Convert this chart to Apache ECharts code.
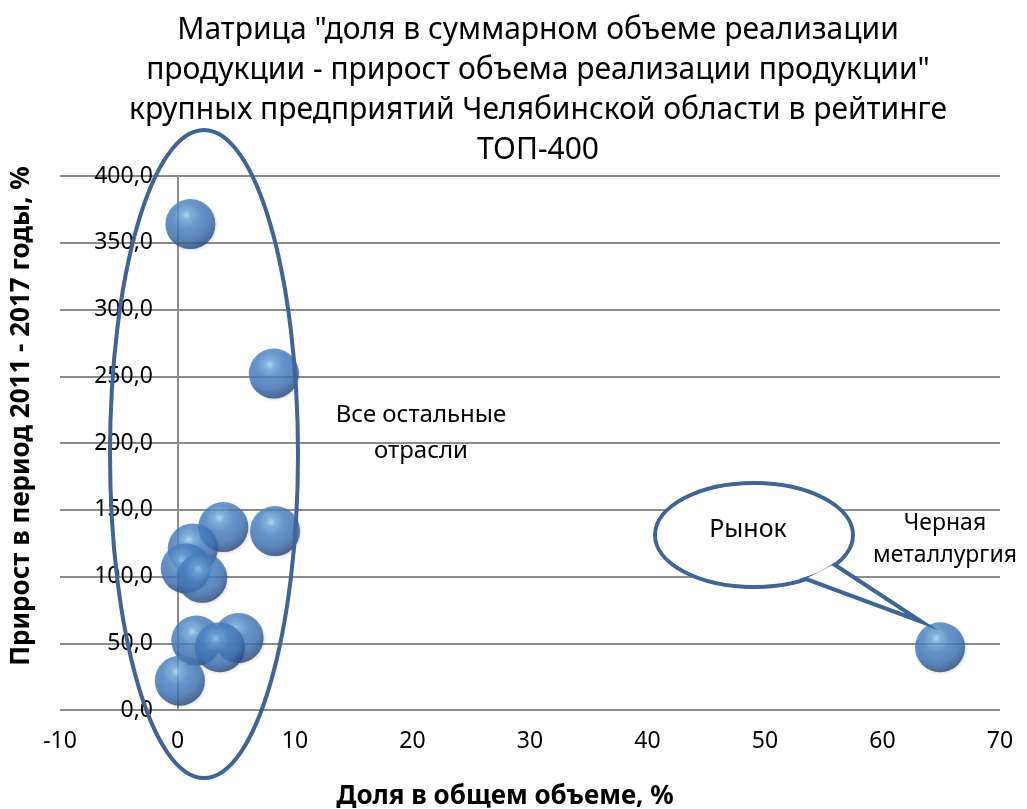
<!DOCTYPE html>
<html>
<head>
<meta charset="utf-8">
<script src="https://cdn.jsdelivr.net/npm/echarts@6/dist/echarts.min.js"></script>
<style>
html,body{margin:0;padding:0;background:#fff;}
#chart{width:1027px;height:809px;}
</style>
</head>
<body>
<div id="chart"></div>
<script>
// Data: share in total volume (%) and growth 2011-2017 (%)
var shareValues = [1.1, 8.2, 3.9, 8.3, 1.3, 0.7, 2.1, 1.6, 5.2, 3.6, 0.2, 64.9];
var growthValues = [364, 252, 137, 134, 121, 106, 99, 52, 54, 47, 22, 47];
var xTicks = [-10, 0, 10, 20, 30, 40, 50, 60, 70];
var yTicks = [0, 50, 100, 150, 200, 250, 300, 350, 400];
var titleLines = [
  'Матрица "доля в суммарном объеме реализации',
  'продукции - прирост объема реализации продукции"',
  'крупных предприятий Челябинской области в рейтинге',
  'ТОП-400'
];
var xAxisTitle = 'Доля в общем объеме, %';
var yAxisTitle = 'Прирост в период 2011 - 2017 годы, %';
var noteOthers = 'Все остальные\nотрасли';
var noteMetal = 'Черная\nметаллургия';
var noteMarket = 'Рынок';

var points = shareValues.map(function (x, i) { return [x, growthValues[i]]; });
var FONT = 'Noto Sans';
var chart = echarts.init(document.getElementById('chart'));

var sphere = {
  type: 'radial', x: 0.42, y: 0.32, r: 0.78,
  colorStops: [
    { offset: 0, color: '#9fd6f6' },
    { offset: 0.12, color: '#6ea8dd' },
    { offset: 0.35, color: '#4a82c4' },
    { offset: 0.62, color: '#3f73b5' },
    { offset: 0.8, color: '#2d5692' },
    { offset: 1, color: '#1a3358' }
  ]
};
var STROKE = '#3f6496';

chart.setOption({
  backgroundColor: '#ffffff',
  animation: false,
  title: {
    text: titleLines.join('\n'),
    left: 533,
    textAlign: 'center',
    top: 5,
    textStyle: { fontFamily: FONT, fontSize: 30, fontWeight: 'normal', color: '#000', lineHeight: 40 }
  },
  grid: { left: 60, right: 27, top: 176, bottom: 99, containLabel: false, outerBoundsMode: 'none' },
  xAxis: {
    type: 'value',
    min: xTicks[0], max: xTicks[xTicks.length - 1], interval: 10,
    name: xAxisTitle, nameLocation: 'middle', nameGap: 74,
    nameTextStyle: { fontFamily: FONT, fontSize: 26, fontWeight: 'bold', color: '#000', padding: [0, 50, 0, 0] },
    axisLine: { show: false },
    axisTick: { show: false },
    splitLine: { show: false },
    axisLabel: { fontFamily: FONT, fontSize: 23, color: '#000', margin: 20 }
  },
  yAxis: {
    type: 'value',
    min: yTicks[0], max: yTicks[yTicks.length - 1], interval: 50,
    name: yAxisTitle, nameLocation: 'middle', nameGap: 25, nameRotate: 90,
    nameTextStyle: { fontFamily: FONT, fontSize: 26, fontWeight: 'bold', color: '#000', padding: [0, 0, 0, 54] },
    axisLine: { show: true, onZero: true, lineStyle: { color: '#8c8c8c', width: 2 } },
    axisTick: { show: false },
    splitLine: { show: true, lineStyle: { color: '#8c8c8c', width: 2 } },
    axisLabel: {
      fontFamily: FONT, fontSize: 23, color: '#000', margin: -93,
      formatter: function (v) { return v.toFixed(1).replace('.', ','); }
    }
  },
  series: [{
    type: 'scatter',
    data: points,
    symbol: 'circle',
    symbolSize: 50,
    itemStyle: {
      color: sphere,
      shadowColor: 'rgba(0,0,0,0.2)', shadowBlur: 3, shadowOffsetX: 1, shadowOffsetY: 1
    },
    z: 3
  }],
  graphic: [
    {
      type: 'ellipse', z: 10,
      shape: { cx: 204, cy: 454, rx: 94, ry: 324 },
      style: { fill: 'none', stroke: STROKE, lineWidth: 4 }
    },
    {
      type: 'ellipse', z: 10,
      shape: { cx: 754, cy: 535, rx: 99, ry: 52 },
      style: { fill: '#ffffff', stroke: STROKE, lineWidth: 4 }
    },
    {
      type: 'polygon', z: 11,
      shape: { points: [[832, 563], [922, 622], [803, 578]] },
      style: { fill: '#ffffff', stroke: STROKE, lineWidth: 4, lineJoin: 'miter' }
    },
    {
      type: 'ellipse', z: 12,
      shape: { cx: 754, cy: 535, rx: 96.5, ry: 49.5 },
      style: { fill: '#ffffff' }
    },
    {
      type: 'text', z: 13, x: 748, y: 530,
      style: { text: noteMarket, fontFamily: FONT, fontSize: 25, fill: '#000', align: 'center', verticalAlign: 'middle' }
    },
    {
      type: 'text', z: 13, x: 421, y: 433,
      style: { text: noteOthers, fontFamily: FONT, fontSize: 24, fill: '#000', align: 'center', verticalAlign: 'middle', lineHeight: 36 }
    },
    {
      type: 'text', z: 13, x: 945, y: 539,
      style: { text: noteMetal, fontFamily: FONT, fontSize: 23, fill: '#000', align: 'center', verticalAlign: 'middle', lineHeight: 32 }
    }
  ]
});
</script>
</body>
</html>
